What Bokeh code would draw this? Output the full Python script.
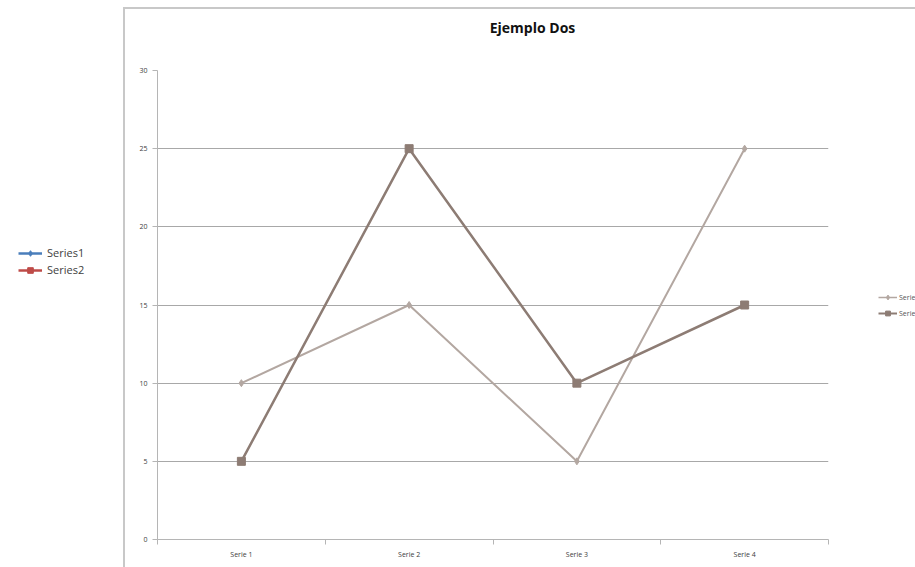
from bokeh.plotting import figure
from bokeh.layouts import row, column
from bokeh.models import (Range1d, LinearAxis, FixedTicker, Legend, LegendItem, Label,
                          ColumnDataSource, InlineStyleSheet)
from bokeh.embed import file_html
from bokeh.resources import INLINE

categories = ["Serie 1", "Serie 2", "Serie 3", "Serie 4"]
series1 = [10, 15, 5, 25]
series2 = [5, 25, 10, 15]
y_ticks = [0, 5, 10, 15, 20, 25, 30]
title_text = "Ejemplo Dos"
legend_names = ["Series1", "Series2"]

FONT = "Open Sans"
C1 = "#b3a7a1"
C2 = "#8d7c74"
AX = "#b5b5b5"
BLUE = "#4a7ebb"
RED = "#be4b48"
NAN = float("nan")

n = len(categories)
xpos = [i + 0.5 for i in range(n)]  # category centres on the axis

TOP_H = 40
BODY_H = 567 - TOP_H


def blank_figure(width, height):
    f = figure(width=width, height=height, output_backend="svg", toolbar_location=None,
               x_range=Range1d(0, 1), y_range=Range1d(0, 1),
               x_axis_location=None, y_axis_location=None,
               min_border=0, min_border_left=0, min_border_right=0,
               min_border_top=0, min_border_bottom=0)
    f.outline_line_color = None
    f.grid.visible = False
    f.background_fill_color = "white"
    f.border_fill_color = "white"
    return f


# ---------------- title strip ----------------
tf = blank_figure(915, TOP_H)
tf.add_layout(Label(x=532, y=TOP_H - 27, x_units="screen", y_units="screen", text=title_text,
                    text_font=FONT, text_font_style="bold", text_font_size="14px",
                    text_color="#111111", text_align="center", text_baseline="middle"))

# ---------------- main chart ----------------
p = figure(width=755, height=BODY_H, output_backend="svg", toolbar_location=None,
           x_range=Range1d(0, n), y_range=Range1d(0, 30),
           x_axis_location=None, y_axis_location=None,
           min_border_left=34, min_border_right=50, min_border_top=70 - TOP_H,
           min_border_bottom=28)
p.outline_line_color = None
p.background_fill_color = "white"
p.border_fill_color = "white"

x_axis = LinearAxis(ticker=FixedTicker(ticks=xpos, minor_ticks=list(range(n + 1))),
                    major_label_overrides={x: c for x, c in zip(xpos, categories)},
                    axis_line_color=AX, major_tick_line_color=None,
                    minor_tick_line_color=AX, minor_tick_out=5, minor_tick_in=0,
                    major_label_standoff=4, major_label_text_font=FONT,
                    major_label_text_font_size="7px", major_label_text_color="#404040")
p.add_layout(x_axis, "below")
y_axis = LinearAxis(ticker=FixedTicker(ticks=y_ticks), axis_line_color=AX,
                    major_tick_line_color=AX, major_tick_out=5, major_tick_in=0,
                    minor_tick_line_color=None, major_label_standoff=5,
                    major_label_text_font=FONT, major_label_text_font_size="7px",
                    major_label_text_color="#404040")
p.add_layout(y_axis, "left")

p.xgrid.grid_line_color = None
p.ygrid.ticker = FixedTicker(ticks=y_ticks)
p.ygrid.grid_line_color = "#a8a8a8"
p.ygrid.grid_line_width = 1

src = ColumnDataSource(dict(x=xpos, s1=series1, s2=series2))
p.line("x", "s1", source=src, line_color=C1, line_width=2)
p.scatter("x", "s1", source=src, marker="diamond", size=7, fill_color=C1, line_color=C1)
p.line("x", "s2", source=src, line_color=C2, line_width=2.5)
p.scatter("x", "s2", source=src, marker="square", size=8, fill_color=C2, line_color=C2)

# ---------------- left legend (blue / red) ----------------
lf = blank_figure(123, BODY_H)
bl = lf.line(x=[NAN], y=[NAN], line_color=BLUE, line_width=2.5)
bm = lf.scatter(x=[NAN], y=[NAN], marker="diamond", size=8, fill_color=BLUE, line_color=BLUE)
rl = lf.line(x=[NAN], y=[NAN], line_color=RED, line_width=2.5)
rm = lf.scatter(x=[NAN], y=[NAN], marker="square", size=7, fill_color=RED, line_color=RED)
left_legend = Legend(items=[LegendItem(label=legend_names[0], renderers=[bl, bm]),
                            LegendItem(label=legend_names[1], renderers=[rl, rm])],
                     location=(18, 262), background_fill_alpha=0, border_line_color=None,
                     label_text_font=FONT, label_text_font_size="11px", label_text_color="#404040",
                     glyph_width=24, glyph_height=14, spacing=2, padding=0, margin=0,
                     label_standoff=5)
lf.add_layout(left_legend, "center")

# ---------------- right legend (cut off at the window edge) ----------------
rf = blank_figure(37, BODY_H)
gl = rf.line(x=[NAN], y=[NAN], line_color=C1, line_width=1.5)
gm = rf.scatter(x=[NAN], y=[NAN], marker="diamond", size=5, fill_color=C1, line_color=C1)
dl = rf.line(x=[NAN], y=[NAN], line_color=C2, line_width=2)
dm = rf.scatter(x=[NAN], y=[NAN], marker="square", size=6, fill_color=C2, line_color=C2)
right_legend = Legend(items=[LegendItem(label=legend_names[0], renderers=[gl, gm]),
                             LegendItem(label=legend_names[1], renderers=[dl, dm])],
                      location=(0, 220), background_fill_alpha=0, border_line_color=None,
                      label_text_font=FONT, label_text_font_size="7px", label_text_color="#555555",
                      glyph_width=19, glyph_height=12, spacing=4, padding=0, margin=0,
                      label_standoff=2)
rf.add_layout(right_legend, "center")

layout = column(tf, row(lf, p, rf, spacing=0), spacing=0)
layout.stylesheets = [InlineStyleSheet(css=(
    ":host { position: relative; }"
    ":host::after { content: ''; position: absolute; left: 123px; top: 7px; width: 900px; height: 700px;"
    " border-left: 2px solid #c8c8c8; border-top: 2px solid #c8c8c8; pointer-events: none; }"))]

open("out.html", "w").write(file_html(layout, INLINE))
